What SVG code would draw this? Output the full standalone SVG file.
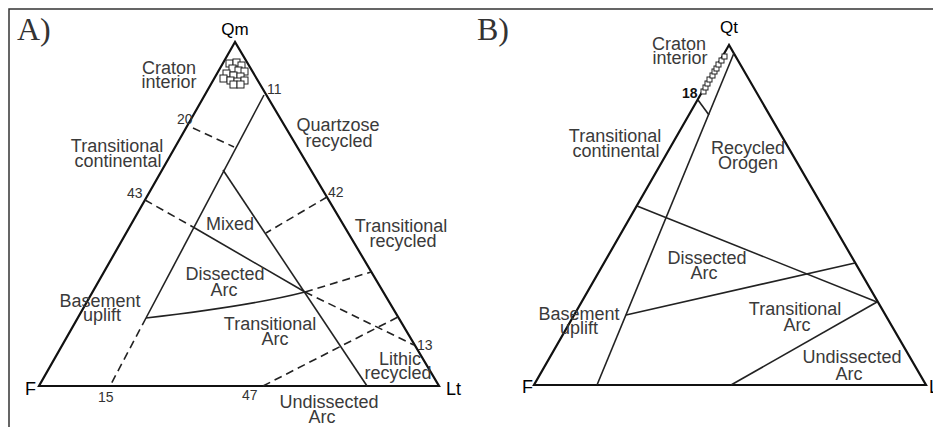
<svg xmlns="http://www.w3.org/2000/svg" width="933" height="427" viewBox="0 0 933 427">
<style>
.ol{stroke:#111;stroke-width:2.2;fill:none;stroke-linejoin:miter}
.ln{stroke:#222;stroke-width:1.6;fill:none}
.ds{stroke:#222;stroke-width:1.6;stroke-dasharray:8 5;fill:none}
.sq{fill:#fff;stroke:#222;stroke-width:1}
text{font-family:"Liberation Sans",Arial,sans-serif}
.lab{font-size:18px;fill:#3a3a3a;text-anchor:middle}
.num{font-size:14px;fill:#333}
.vx{font-size:17px;fill:#000}
.pl{font-family:"Liberation Serif","Times New Roman",serif;font-size:32px;fill:#333}
</style>
<rect width="933" height="427" fill="#fff"/>
<path d="M9,427 V9 H933" fill="none" stroke="#333" stroke-width="1.5"/>

<g id="panelA">
<text class="pl" x="17" y="40">A)</text>
<g id="A-triangle"><path class="ol" d="M235,42 L39,386 L439,386 Z"/></g>
<g id="A-connectors">
<path class="ln" d="M264,95 L146,318"/>
<path class="ds" d="M146,318 L110,386"/>
<path class="ln" d="M223,170 L367,386"/>
<path class="ds" d="M145,200 L193,227"/>
<path class="ln" d="M193,227 L305,292"/>
<path class="ds" d="M305,292 L414,345"/>
<path class="ln" d="M146,318 Q250,306 305,292"/>
<path class="ds" d="M193,128 L234,147"/>
<path class="ds" d="M327,197 L266,233"/>
<path class="ds" d="M305,292 L371,272"/>
<path class="ds" d="M263,386 L398,317"/>
</g>
<g id="A-data">
<rect class="sq" x="226" y="60" width="7" height="7"/>
<rect class="sq" x="233" y="59" width="7" height="7"/>
<rect class="sq" x="238" y="62" width="7" height="7"/>
<rect class="sq" x="229" y="65" width="7" height="7"/>
<rect class="sq" x="235" y="67" width="7" height="7"/>
<rect class="sq" x="241" y="68" width="7" height="7"/>
<rect class="sq" x="223" y="70" width="7" height="7"/>
<rect class="sq" x="230" y="72" width="7" height="7"/>
<rect class="sq" x="237" y="73" width="7" height="7"/>
<rect class="sq" x="220" y="75" width="7" height="7"/>
<rect class="sq" x="227" y="77" width="7" height="7"/>
<rect class="sq" x="234" y="78" width="7" height="7"/>
<rect class="sq" x="241" y="77" width="7" height="7"/>
<rect class="sq" x="230" y="81" width="7" height="7"/>
<rect class="sq" x="237" y="81" width="7" height="7"/>
</g>
<g id="A-labels">
<text class="vx" x="235" y="35" text-anchor="middle">Qm</text>
<text class="vx" x="25" y="395" style="font-size:18px">F</text>
<text class="vx" x="446" y="395" style="font-size:18px">Lt</text>
<g id="A-craton"><text class="lab" x="169" y="74">Craton</text><text class="lab" x="169" y="88">interior</text></g>
<g id="A-quartzose"><text class="lab" x="338" y="131">Quartzose</text><text class="lab" x="339" y="147">recycled</text></g>
<g id="A-transcont"><text class="lab" x="117" y="152">Transitional</text><text class="lab" x="118" y="167">continental</text></g>
<g id="A-mixed"><text class="lab" x="230" y="230">Mixed</text></g>
<g id="A-transrec"><text class="lab" x="401" y="232">Transitional</text><text class="lab" x="403" y="247">recycled</text></g>
<g id="A-dissected"><text class="lab" x="225" y="280">Dissected</text><text class="lab" x="224" y="296">Arc</text></g>
<g id="A-basement"><text class="lab" x="100" y="307">Basement</text><text class="lab" x="102" y="321">uplift</text></g>
<g id="A-transarc"><text class="lab" x="270" y="330">Transitional</text><text class="lab" x="275" y="345">Arc</text></g>
<g id="A-lithic"><text class="lab" x="400" y="365">Lithic</text><text class="lab" x="398" y="379">recycled</text></g>
<g id="A-undissected"><text class="lab" x="329" y="408">Undissected</text><text class="lab" x="322" y="423">Arc</text></g>
<text class="num" x="267" y="94">11</text>
<text class="num" x="177" y="124">20</text>
<text class="num" x="127" y="198">43</text>
<text class="num" x="328" y="197">42</text>
<text class="num" x="417" y="350">13</text>
<text class="num" x="98" y="402">15</text>
<text class="num" x="242" y="400">47</text>
</g>
</g>

<g id="panelB">
<text class="pl" x="477" y="40">B)</text>
<g id="B-triangle"><path class="ol" d="M729,45 L534,385 L926,385 Z"/></g>
<g id="B-connectors">
<path class="ln" d="M734,53 L597,385"/>
<path class="ln" d="M698,100 L709,115"/>
<path class="ln" d="M637,206 L877,302"/>
<path class="ln" d="M626,315 L855,263"/>
<path class="ln" d="M731,385 L877,302"/>
</g>
<g id="B-data">
<rect class="sq" x="701" y="89" width="5" height="5"/>
<rect class="sq" x="703" y="85" width="5" height="5"/>
<rect class="sq" x="705" y="81" width="5" height="5"/>
<rect class="sq" x="707" y="77" width="5" height="5"/>
<rect class="sq" x="710" y="73" width="5" height="5"/>
<rect class="sq" x="712" y="69" width="5" height="5"/>
<rect class="sq" x="714" y="66" width="5" height="5"/>
<rect class="sq" x="716" y="62" width="5" height="5"/>
<rect class="sq" x="719" y="58" width="5" height="5"/>
<rect class="sq" x="722" y="54" width="5" height="5"/>
</g>
<g id="B-labels">
<text class="vx" x="729" y="33" text-anchor="middle">Qt</text>
<text class="vx" x="522" y="393" style="font-size:18px">F</text>
<text class="vx" x="929" y="393" style="font-size:18px">Lt</text>
<text class="num" x="682" y="98" style="font-weight:bold;fill:#111;font-size:14px">18</text>
<g id="B-craton"><text class="lab" x="679" y="50">Craton</text><text class="lab" x="680" y="64">interior</text></g>
<g id="B-transcont"><text class="lab" x="615" y="142">Transitional</text><text class="lab" x="616" y="157">continental</text></g>
<g id="B-recycled"><text class="lab" x="748" y="154">Recycled</text><text class="lab" x="748" y="169">Orogen</text></g>
<g id="B-dissected"><text class="lab" x="707" y="264">Dissected</text><text class="lab" x="704" y="279">Arc</text></g>
<g id="B-basement"><text class="lab" x="579" y="320">Basement</text><text class="lab" x="579" y="334">uplift</text></g>
<g id="B-transarc"><text class="lab" x="795" y="315">Transitional</text><text class="lab" x="797" y="331">Arc</text></g>
<g id="B-undissected"><text class="lab" x="852" y="363">Undissected</text><text class="lab" x="849" y="380">Arc</text></g>
</g>
</g>
</svg>
